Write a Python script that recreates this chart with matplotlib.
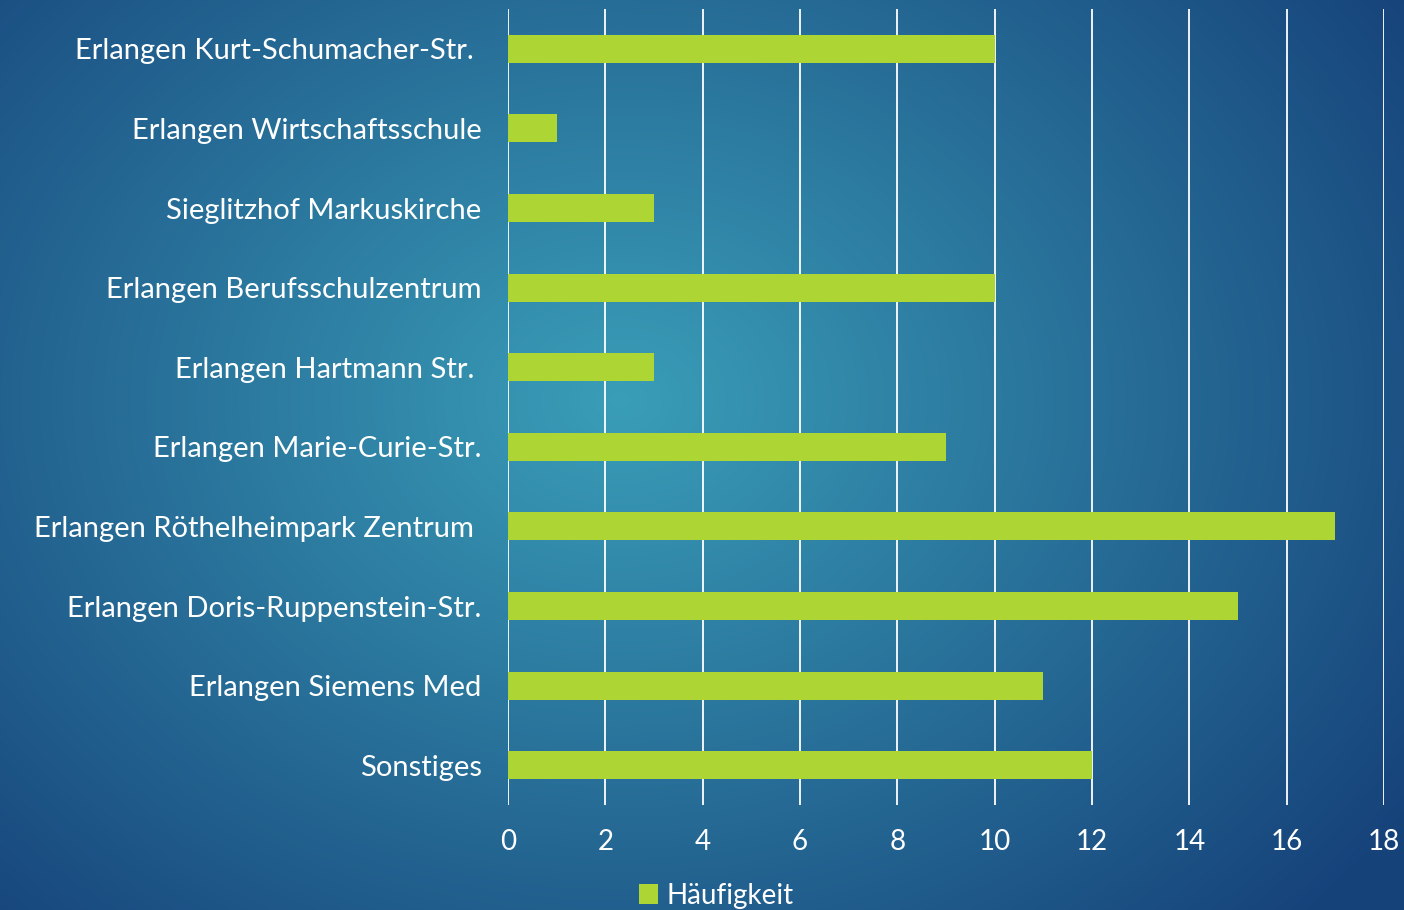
import matplotlib.pyplot as plt
import numpy as np

categories = [
    "Erlangen Kurt-Schumacher-Str. ",
    "Erlangen Wirtschaftsschule",
    "Sieglitzhof Markuskirche",
    "Erlangen Berufsschulzentrum",
    "Erlangen Hartmann Str. ",
    "Erlangen Marie-Curie-Str.",
    "Erlangen Röthelheimpark Zentrum ",
    "Erlangen Doris-Ruppenstein-Str.",
    "Erlangen Siemens Med",
    "Sonstiges",
]
values = [10, 1, 3, 10, 3, 9, 17, 15, 11, 12]
xticks = [0, 2, 4, 6, 8, 10, 12, 14, 16, 18]

plt.rcParams["font.family"] = ["Lato", "DejaVu Sans"]

fig = plt.figure(figsize=(14.04, 9.10), dpi=100)

# radial gradient background
bg = fig.add_axes([0, 0, 1, 1])
yy, xx = np.mgrid[0:910, 0:1404]
d = np.sqrt(((xx - 620) / 950.0) ** 2 + ((yy - 400) / 750.0) ** 2)
d = np.clip(d, 0, 1)
inner = np.array([0x3a, 0x9e, 0xb8]) / 255.0
outer = np.array([0x16, 0x42, 0x7a]) / 255.0
img = inner[None, None, :] * (1 - d[..., None]) + outer[None, None, :] * d[..., None]
bg.imshow(img, aspect="auto", extent=[0, 1, 0, 1])
bg.axis("off")

ax = fig.add_axes([508 / 1404, 1 - 805 / 910, (1384 - 508) / 1404, (805 - 9) / 910])
ax.patch.set_alpha(0)
ypos = np.arange(len(categories))
ax.barh(ypos, values, height=0.35, color="#add533", label="Häufigkeit", zorder=3)
ax.set_ylim(len(categories) - 0.5, -0.5)
ax.set_xlim(0, 18)
ax.set_xticks(xticks)
ax.set_yticks(ypos)
ax.set_yticklabels(categories)
ax.grid(axis="x", color="white", linewidth=1.3, zorder=0)
for s in ax.spines.values():
    s.set_visible(False)
ax.tick_params(axis="both", length=0, colors="white")
ax.tick_params(axis="y", pad=19, labelsize=21)
ax.tick_params(axis="x", pad=17, labelsize=20)

fig.legend(loc="lower center", bbox_to_anchor=(0.51, -0.026), frameon=False,
           fontsize=20, labelcolor="white", handlelength=0.7, handleheight=0.7,
           handletextpad=0.3)

fig.savefig("out.png", dpi=100)
